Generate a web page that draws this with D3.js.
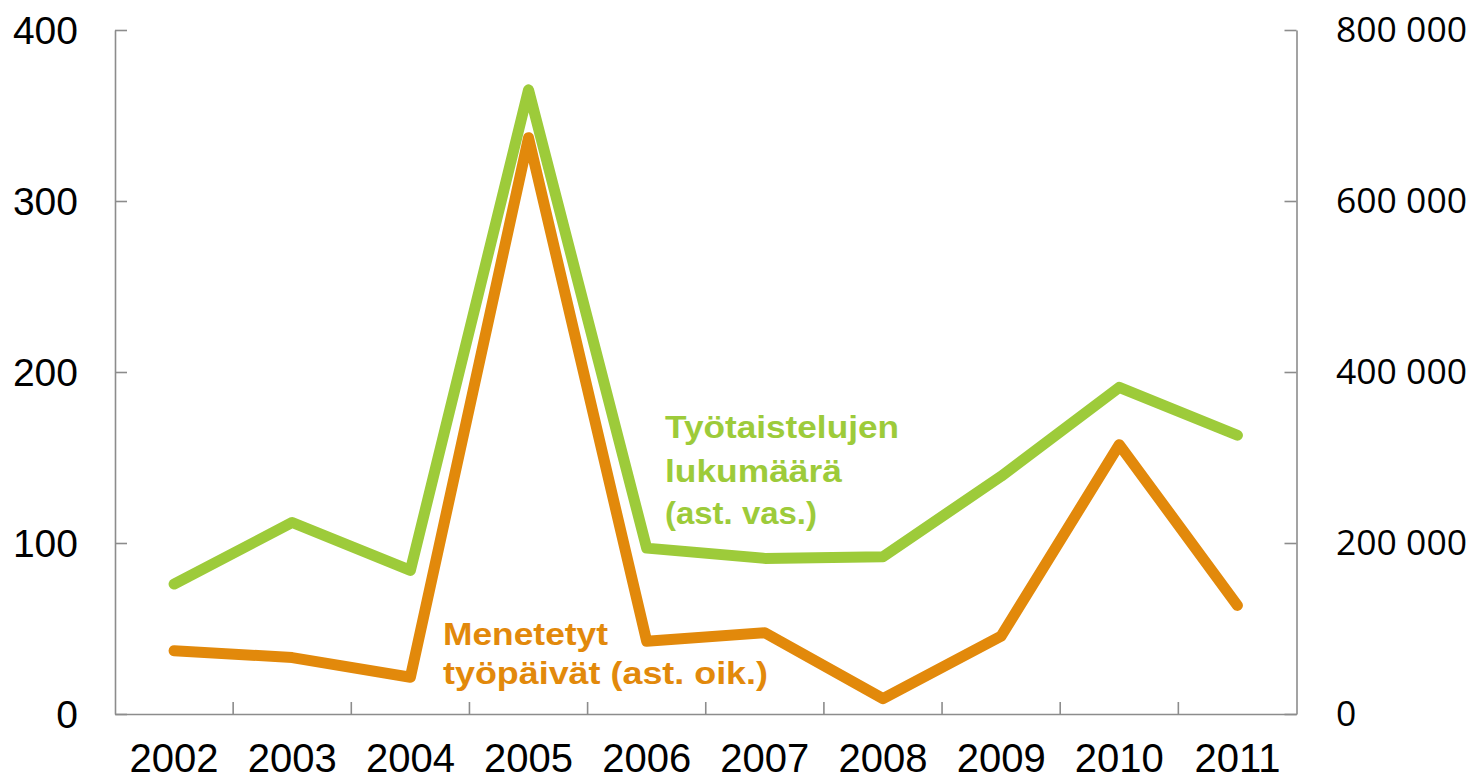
<!DOCTYPE html>
<html>
<head>
<meta charset="utf-8">
<script src="https://cdn.jsdelivr.net/npm/d3@7"></script>
<style>
  html, body { margin: 0; padding: 0; background: #fff; }
  svg { display: block; }
</style>
</head>
<body>
<svg id="chart" width="1474" height="780"></svg>
<script>
// ---- data ----
const years = ["2002","2003","2004","2005","2006","2007","2008","2009","2010","2011"];
const disputes = [76, 112, 84, 365, 97, 91, 92, 139, 191, 163];            // left axis
const lostDays = [74000, 66000, 43000, 674000, 85000, 95000, 18000, 91000, 315000, 127000]; // right axis
const leftTicks = [0, 100, 200, 300, 400];
const rightTicks = [0, 200000, 400000, 600000, 800000];
const greenLabel = ["Työtaistelujen", "lukumäärä", "(ast. vas.)"];
const orangeLabel = ["Menetetyt", "työpäivät (ast. oik.)"];

(function () {
const GREEN = "#9dcb3a";
const ORANGE = "#e2890b";
const AXIS = "#8c8c8c";

const svg = d3.select("#chart");
svg.append("rect").attr("width", 1474).attr("height", 780).attr("fill", "#fff");

const mLeft = 115, mRight = 1296.5, mTop = 30, mBottom = 714;

const x = d3.scaleBand().domain(years).range([mLeft, mRight]).padding(0);
const cx = d => x(d) + x.bandwidth() / 2;
const yL = d3.scaleLinear().domain([0, 400]).range([mBottom, mTop]);
const yR = d3.scaleLinear().domain([0, 800000]).range([mBottom, mTop]);

const fi = d3.formatLocale({decimal: ",", thousands: " ", grouping: [3], currency: ["", ""]});
const fmtR = fi.format(",");

// left axis
const gL = svg.append("g").attr("transform", `translate(${mLeft},0)`)
  .call(d3.axisLeft(yL).tickValues(leftTicks).tickSizeInner(-12).tickSizeOuter(0).tickPadding(37).tickFormat(d3.format("d")));
gL.selectAll("text").attr("font-family", "'Liberation Sans', Arial, sans-serif").attr("font-size", 39).attr("fill", "#000").attr("dy", "0.35em");

// right axis
const gR = svg.append("g").attr("transform", `translate(${mRight},0)`)
  .call(d3.axisRight(yR).tickValues(rightTicks).tickSizeInner(-12).tickSizeOuter(0).tickPadding(39.5).tickFormat(fmtR));
gR.selectAll("text").attr("font-family", "'Open Sans', sans-serif").attr("font-size", 35.5).attr("fill", "#000").attr("dy", "0.33em");

// bottom axis (labels at band centres)
const gB = svg.append("g").attr("transform", `translate(0,${mBottom})`)
  .call(d3.axisBottom(x).tickSize(0).tickSizeOuter(0).tickPadding(30));
gB.selectAll("text").attr("font-family", "'Liberation Sans', Arial, sans-serif").attr("font-size", 40).attr("fill", "#000").attr("dy", "0.71em");
// boundary ticks between categories
gB.selectAll("line.bt").data(years.slice(1)).join("line").attr("class", "bt")
  .attr("x1", d => x(d)).attr("x2", d => x(d)).attr("y1", 0).attr("y2", -12);

[gL, gR, gB].forEach(g => {
  g.selectAll("path.domain").attr("stroke", AXIS).attr("stroke-width", 1.6);
  g.selectAll("line").attr("stroke", AXIS).attr("stroke-width", 1.6);
});

// lines
const lineL = d3.line().x((d, i) => cx(years[i])).y(d => yL(d));
const lineR = d3.line().x((d, i) => cx(years[i])).y(d => yR(d));

svg.append("path").datum(lostDays).attr("d", lineR)
  .attr("fill", "none").attr("stroke", ORANGE).attr("stroke-width", 11)
  .attr("stroke-linejoin", "round").attr("stroke-linecap", "round");
svg.append("path").datum(disputes).attr("d", lineL)
  .attr("fill", "none").attr("stroke", GREEN).attr("stroke-width", 11)
  .attr("stroke-linejoin", "round").attr("stroke-linecap", "round");

// annotations
const gw = [234, 177, 152];
const gy = [437.5, 481.5, 524];
svg.append("g").selectAll("text").data(greenLabel).join("text")
  .attr("x", 665).attr("y", (d, i) => gy[i])
  .attr("textLength", (d, i) => gw[i]).attr("lengthAdjust", "spacingAndGlyphs")
  .attr("font-family", "'Liberation Sans', Arial, sans-serif").attr("font-weight", "bold")
  .attr("font-size", 31.5).attr("fill", GREEN).text(d => d);

const ow = [165, 325];
const oy = [645, 684];
svg.append("g").selectAll("text").data(orangeLabel).join("text")
  .attr("x", 443).attr("y", (d, i) => oy[i])
  .attr("textLength", (d, i) => ow[i]).attr("lengthAdjust", "spacingAndGlyphs")
  .attr("font-family", "'Liberation Sans', Arial, sans-serif").attr("font-weight", "bold")
  .attr("font-size", 30.5).attr("fill", ORANGE).text(d => d);
})();
</script>
</body>
</html>
